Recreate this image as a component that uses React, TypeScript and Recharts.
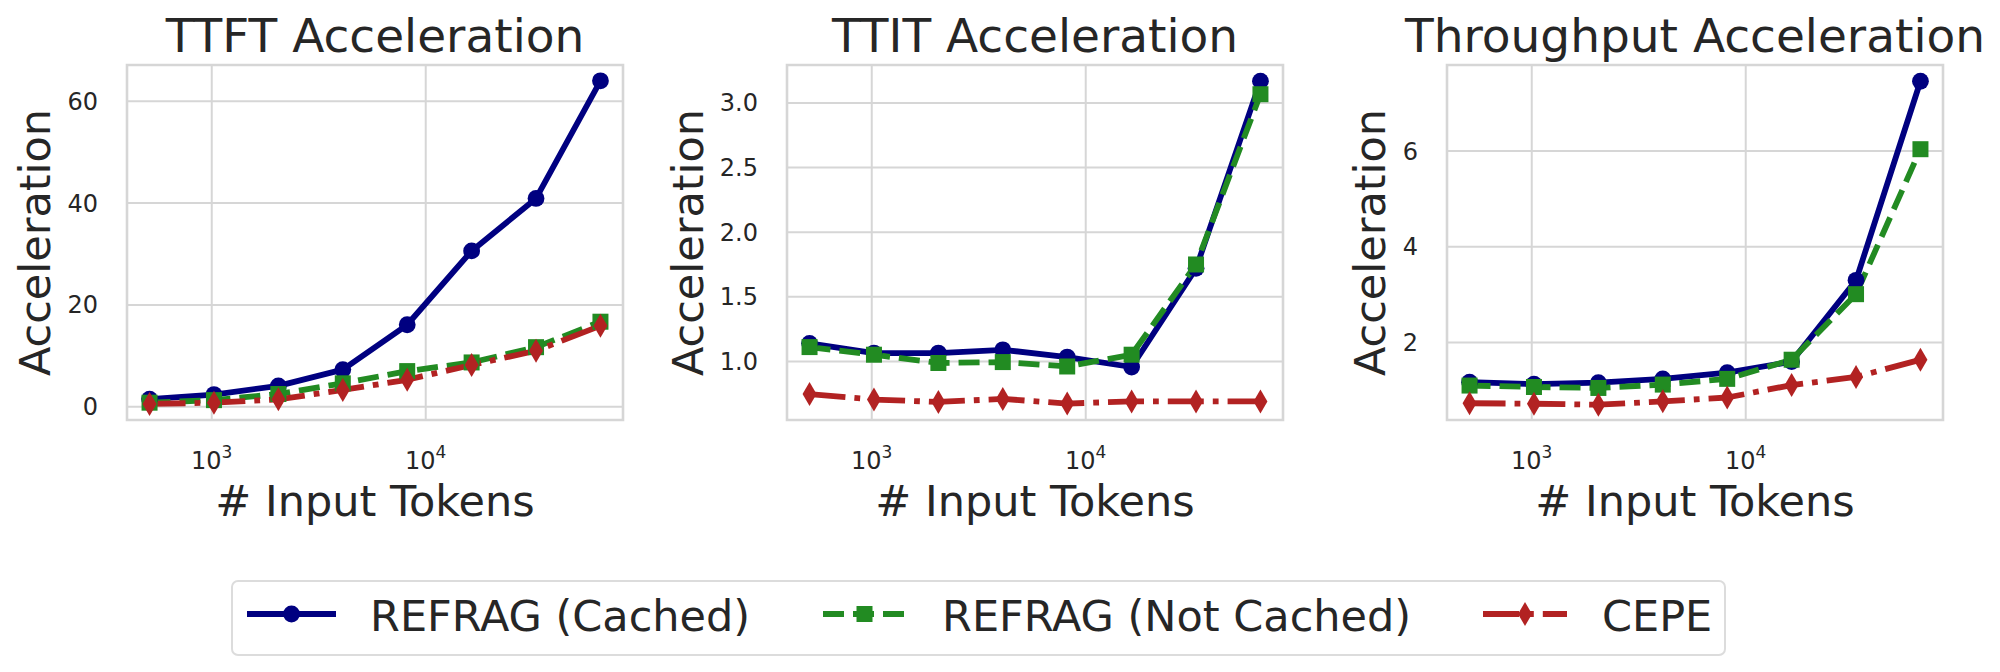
import React from "react";
import {
  LineChart,
  Line,
  XAxis,
  YAxis,
  CartesianGrid,
  ReferenceArea,
} from "recharts";

// input sizes (# tokens) shared by all three panels
const tokens = [512, 1024, 2048, 4096, 8192, 16384, 32768, 65536];

// TTFT acceleration
const ttftCached = [1.5, 2.4, 4.1, 7.3, 16.1, 30.6, 40.9, 64.0];
const ttftNotCached = [0.8, 1.3, 2.5, 4.6, 7.0, 8.7, 11.7, 16.7];
const ttftCepe = [0.55, 0.8, 1.45, 3.3, 5.3, 8.2, 11.0, 15.9];

// TTIT acceleration
const ttitCached = [1.14, 1.065, 1.065, 1.09, 1.034, 0.957, 1.72, 3.168];
const ttitNotCached = [1.111, 1.052, 0.988, 0.995, 0.961, 1.052, 1.75, 3.067];
const ttitCepe = [0.748, 0.705, 0.687, 0.71, 0.674, 0.691, 0.691, 0.691];

// Throughput acceleration
const tputCached = [1.17, 1.13, 1.16, 1.24, 1.37, 1.6, 3.3, 7.46];
const tputNotCached = [1.1, 1.07, 1.05, 1.12, 1.24, 1.64, 3.01, 6.04];
const tputCepe = [0.73, 0.72, 0.7, 0.77, 0.85, 1.11, 1.28, 1.64];

const xTicks = [1000, 10000];
const ttftTicks = [0, 20, 40, 60];
const ttitTicks = [1.0, 1.5, 2.0, 2.5, 3.0];
const tputTicks = [2, 4, 6];

const FONT = "DejaVu Sans";
const INK = "#262626";
const GRID = "#d6d6d6";
const LW = 5.8;

// log-x limits with matplotlib's 5% margins
const X_MIN = 401.7;
const X_MAX = 83535;

const series = [
  { key: "cached", name: "REFRAG (Cached)", color: "#000080", dash: undefined, marker: "circle" },
  { key: "notCached", name: "REFRAG (Not Cached)", color: "#228B22", dash: "21 9", marker: "square" },
  { key: "cepe", name: "CEPE", color: "#B22222", dash: "36 9 5.8 9", marker: "diamond" },
];

const toRows = (a: number[], b: number[], c: number[]) =>
  tokens.map((t, i) => ({ tokens: t, cached: a[i], notCached: b[i], cepe: c[i] }));

const panels = [
  { title: "TTFT Acceleration", rows: toRows(ttftCached, ttftNotCached, ttftCepe), domain: [-2.6, 67.1], ticks: ttftTicks, digits: 0, left: 0, yLabelX: 50 },
  { title: "TTIT Acceleration", rows: toRows(ttitCached, ttitNotCached, ttitCepe), domain: [0.547, 3.293], ticks: ttitTicks, digits: 1, left: 660, yLabelX: 43 },
  { title: "Throughput Acceleration", rows: toRows(tputCached, tputNotCached, tputCepe), domain: [0.38, 7.8], ticks: tputTicks, digits: 0, left: 1320, yLabelX: 65 },
];

const AXIS_W = 127;
const PLOT_W = 496;
const CHART_W = 653;
const CHART_H = 540;
const TOP = 65;

function marker(shape: string, color: string, cx: number, cy: number, k?: any) {
  if (shape === "circle") return <circle key={k} cx={cx} cy={cy} r={8.4} fill={color} />;
  if (shape === "square")
    return <rect key={k} x={cx - 8} y={cy - 8} width={16} height={16} fill={color} />;
  return (
    <polygon
      key={k}
      points={`${cx},${cy - 12} ${cx + 7},${cy} ${cx},${cy + 12} ${cx - 7},${cy}`}
      fill={color}
    />
  );
}

const dotFor = (shape: string, color: string) => (p: any) => {
  if (p.cx == null || p.cy == null) return <g key={`e-${p.index}`} />;
  return marker(shape, color, p.cx, p.cy, `d-${p.index}`);
};

function PowerTick(props: any) {
  const { x, y, payload } = props;
  const exp = Math.round(Math.log10(payload.value));
  return (
    <text x={x} y={y} textAnchor="middle" fill={INK} fontSize={24} fontFamily={FONT}>
      <tspan>10</tspan>
      <tspan dy={-11} fontSize={17}>
        {exp}
      </tspan>
    </text>
  );
}

function Panel({ p }: { p: (typeof panels)[number] }) {
  return (
    <div style={{ position: "absolute", left: p.left, top: 0 }}>
      <LineChart
        width={CHART_W}
        height={CHART_H}
        data={p.rows}
        margin={{ top: TOP, right: CHART_W - AXIS_W - PLOT_W, bottom: 0, left: 0 }}
      >
        <CartesianGrid stroke={GRID} strokeWidth={2} />
        <XAxis
          dataKey="tokens"
          type="number"
          scale="log"
          domain={[X_MIN, X_MAX]}
          ticks={xTicks}
          allowDataOverflow
          axisLine={false}
          tickLine={false}
          tickSize={0}
          tickMargin={49}
          height={120}
          tick={<PowerTick />}
          label={(lp: any) => {
            const vb = lp.viewBox || {};
            return (
              <text
                x={vb.x + vb.width / 2}
                y={vb.y + 96}
                textAnchor="middle"
                fill={INK}
                fontSize={43}
                fontFamily={FONT}
              >
                # Input Tokens
              </text>
            );
          }}
        />
        <YAxis
          type="number"
          domain={p.domain}
          ticks={p.ticks}
          allowDataOverflow
          width={AXIS_W}
          axisLine={false}
          tickLine={false}
          tickSize={0}
          tickMargin={29}
          tick={{ fontSize: 24, fill: INK, fontFamily: FONT }}
          tickFormatter={(v: number) => v.toFixed(p.digits)}
          label={(lp: any) => {
            const vb = lp.viewBox || {};
            const x = vb.x + p.yLabelX;
            const y = vb.y + vb.height / 2;
            return (
              <text
                x={x}
                y={y}
                textAnchor="middle"
                fill={INK}
                fontSize={43}
                fontFamily={FONT}
                transform={`rotate(-90, ${x}, ${y})`}
              >
                Acceleration
              </text>
            );
          }}
        />
        {series.map((s) => (
          <Line
            key={s.key}
            dataKey={s.key}
            name={s.name}
            stroke={s.color}
            strokeWidth={LW}
            strokeDasharray={s.dash}
            strokeLinejoin="round"
            dot={dotFor(s.marker, s.color)}
            activeDot={false}
            isAnimationActive={false}
          />
        ))}
        <ReferenceArea
          x1={X_MIN}
          x2={X_MAX}
          y1={p.domain[0]}
          y2={p.domain[1]}
          fill="none"
          stroke={GRID}
          strokeWidth={2.6}
          ifOverflow="visible"
        />
      </LineChart>
    </div>
  );
}

const legendItems = [
  { x0: 247, x1: 336, tx: 370 },
  { x0: 823, x1: 906, tx: 942 },
  { x0: 1483, x1: 1567, tx: 1602 },
];

export default function App() {
  return (
    <div
      style={{
        position: "absolute",
        left: 0,
        top: 0,
        width: 2000,
        height: 672,
        background: "#fff",
        fontFamily: FONT,
        overflow: "hidden",
      }}
    >
      {panels.map((p) => (
        <Panel key={p.title} p={p} />
      ))}
      <svg
        width={2000}
        height={672}
        style={{ position: "absolute", left: 0, top: 0, pointerEvents: "none" }}
      >
        {panels.map((p) => (
          <text
            key={p.title}
            x={p.left + AXIS_W + PLOT_W / 2}
            y={52}
            textAnchor="middle"
            fill={INK}
            fontSize={47}
            fontFamily={FONT}
          >
            {p.title}
          </text>
        ))}
        <rect x={232} y={581} width={1493} height={74} rx={6} fill="#fff" stroke="#dcdcdc" strokeWidth={2} />
        {series.map((s, i) => {
          const it = legendItems[i];
          return (
            <g key={s.key}>
              <line
                x1={it.x0}
                x2={it.x1}
                y1={614}
                y2={614}
                stroke={s.color}
                strokeWidth={LW}
                strokeDasharray={s.dash}
              />
              {marker(s.marker, s.color, (it.x0 + it.x1) / 2, 614)}
              <text x={it.tx} y={631} fill={INK} fontSize={43} fontFamily={FONT}>
                {s.name}
              </text>
            </g>
          );
        })}
      </svg>
    </div>
  );
}
